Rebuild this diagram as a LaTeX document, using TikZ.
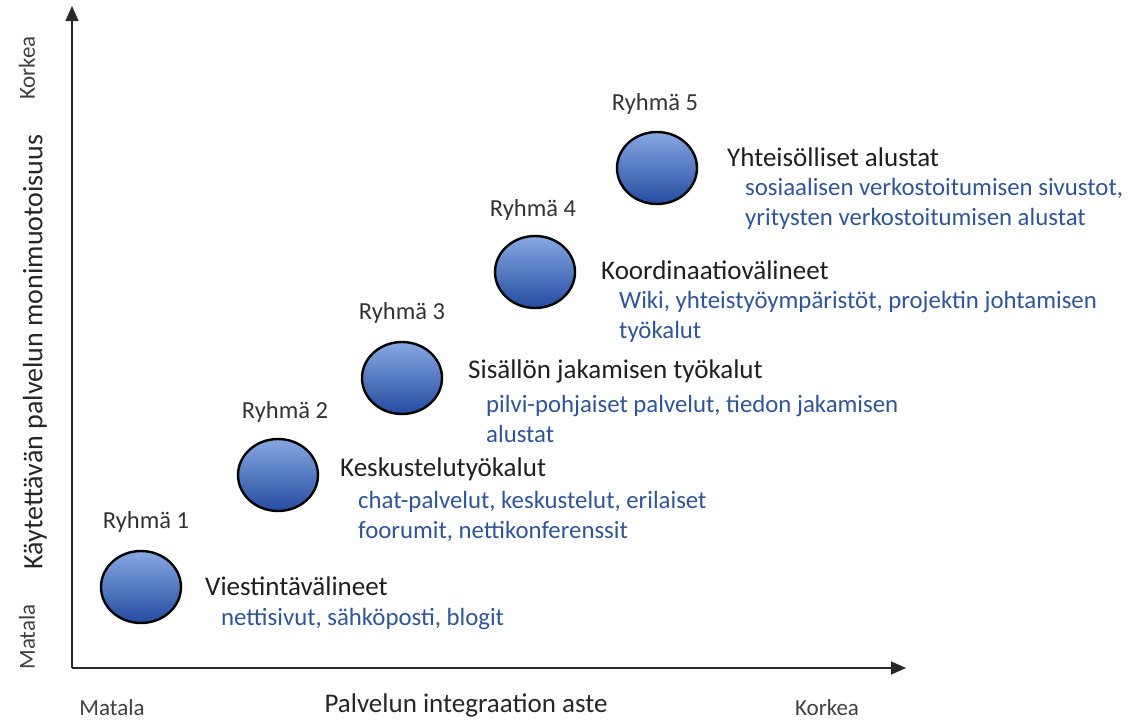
\documentclass[tikz,border=0pt]{standalone}
\usepackage{fontspec}
\setmainfont{Carlito}
\usepackage{xcolor}
\usetikzlibrary{shapes.geometric,arrows.meta,positioning,calc}

\definecolor{descblue}{RGB}{47,85,151}
\definecolor{balltop}{RGB}{135,168,226}
\definecolor{ballbot}{RGB}{36,76,160}
\definecolor{axisgray}{RGB}{40,40,40}

\begin{document}
\begin{tikzpicture}[x=1pt, y=-1pt,
    ball/.style={ellipse, draw=black, line width=2.4pt, minimum width=80pt, minimum height=72pt, inner sep=0pt, top color=balltop, bottom color=ballbot},
    group/.style={font=\fontsize{24.5}{29}\selectfont, text=black!80, inner sep=0pt},
    title/.style={anchor=west, font=\fontsize{27}{32}\selectfont, text=black!88, inner sep=0pt},
    desc/.style={anchor=north west, align=left, font=\fontsize{24.8}{30}\selectfont, text=descblue, inner sep=0pt},
    axislabel/.style={font=\fontsize{27}{32}\selectfont, text=black!85, inner sep=0pt},
    level/.style={font=\fontsize{23}{27}\selectfont, text=black!75, inner sep=0pt},
    axis/.style={draw=axisgray, line width=1.6pt, -{Triangle[length=15pt,width=13pt]}}]

    \useasboundingbox (0,0) rectangle (1134,720);

    % axes
    \coordinate (origin) at (72,668);
    \coordinate (ytop) at (72,6);
    \coordinate (xend) at (906,668);
    \draw[axis] (origin) -- (ytop);
    \draw[axis] (origin) -- (xend);

    \node[axislabel, font=\fontsize{28}{32}\selectfont, rotate=90] (ylab) at (35,352) {Käytettävän palvelun monimuotoisuus};
    \node[level, rotate=90] (yhigh) at (27,68) {Korkea};
    \node[level, rotate=90] (ylow) at (27,637) {Matala};
    \node[axislabel] (xlab) at (466,705) {Palvelun integraation aste};
    \node[level] (xlow) at (112,708) {Matala};
    \node[level] (xhigh) at (827,708) {Korkea};

    % groups
    \node[ball] (g1) at (141,587) {};
    \node[ball] (g2) at (278,475) {};
    \node[ball] (g3) at (402,378) {};
    \node[ball] (g4) at (535,272) {};
    \node[ball] (g5) at (657,168) {};

    \node[group] (r1) at (146,522) {Ryhmä 1};
    \node[group] (r2) at (285,412) {Ryhmä 2};
    \node[group] (r3) at (402,313) {Ryhmä 3};
    \node[group] (r4) at (533,210) {Ryhmä 4};
    \node[group] (r5) at (655,104) {Ryhmä 5};

    \node[title] (t1) at (205,586) {Viestintävälineet};
    \node[title] (t2) at (340,469) {Keskustelutyökalut};
    \node[title] (t3) at (468,371) {Sisällön jakamisen työkalut};
    \node[title] (t4) at (601,270) {Koordinaatiovälineet};
    \node[title] (t5) at (727,157) {Yhteisölliset alustat};

    \node[desc] (d1) at (221,608) {nettisivut, sähköposti, blogit};
    \node[desc] (d2) at (358,491) {chat-palvelut, keskustelut, erilaiset\\foorumit, nettikonferenssit};
    \node[desc] (d3) at (486,395) {pilvi-pohjaiset palvelut, tiedon jakamisen\\alustat};
    \node[desc] (d4) at (619,291) {Wiki, yhteistyöympäristöt, projektin johtamisen\\työkalut};
    \node[desc] (d5) at (745,178) {sosiaalisen verkostoitumisen sivustot,\\yritysten verkostoitumisen alustat};

\end{tikzpicture}
\end{document}
